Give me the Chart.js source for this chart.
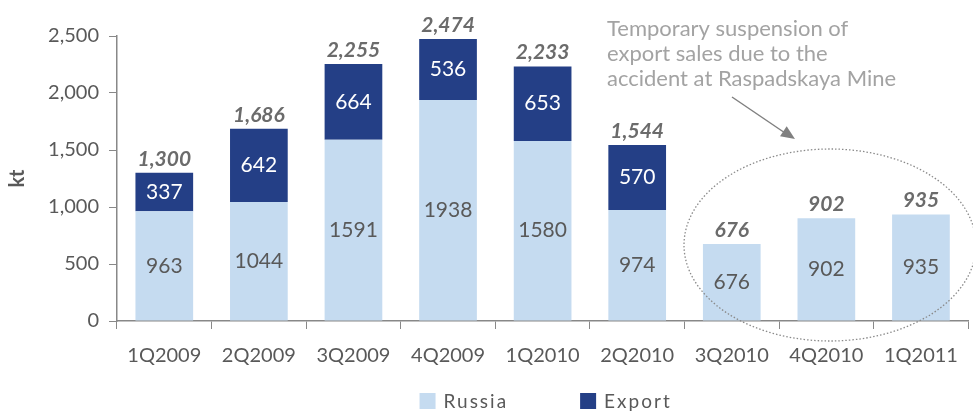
<!DOCTYPE html>
<html>
<head>
<meta charset="utf-8">
<script src="https://cdn.jsdelivr.net/npm/chart.js@4"></script>
<style>
  body { margin: 0; background: #fff; }
  #wrap { width: 973px; height: 411px; position: relative; }
</style>
</head>
<body>
<div id="wrap"><canvas id="myChart"></canvas></div>
<script>
const quarters = ['1Q2009', '2Q2009', '3Q2009', '4Q2009', '1Q2010', '2Q2010', '3Q2010', '4Q2010', '1Q2011']
const russia = [963, 1044, 1591, 1938, 1580, 974, 676, 902, 935]
const exportSales = [337, 642, 664, 536, 653, 570, 0, 0, 0]
const totals = [1300, 1686, 2255, 2474, 2233, 1544, 676, 902, 935]
const noteLines = ['Temporary suspension of', 'export sales due to the', 'accident at Raspadskaya Mine']

const FONT = 'Lato, "Open Sans", sans-serif'
const fmt = (v) => v.toLocaleString('en-US')

// labels in the segments and the totals above each bar
const barLabels = {
  id: 'barLabels',
  afterDatasetsDraw(chart) {
    const ctx = chart.ctx
    ctx.save()
    ctx.textAlign = 'center'
    ctx.textBaseline = 'middle'
    chart.data.datasets.forEach((ds, i) => {
      const meta = chart.getDatasetMeta(i)
      meta.data.forEach((bar, j) => {
        const v = ds.data[j]
        if (!v) return
        ctx.font = '21px ' + FONT
        ctx.fillStyle = i === 0 ? '#595959' : '#ffffff'
        ctx.fillText(String(v), bar.x, (bar.y + bar.base) / 2)
      })
    })
    const top = chart.getDatasetMeta(0).data
    const y = chart.scales.y
    ctx.font = 'italic bold 21px ' + FONT
    ctx.fillStyle = '#6b6b6b'
    totals.forEach((t, j) => {
      ctx.fillText(fmt(t), top[j].x, y.getPixelForValue(t) - 14)
    })
    ctx.restore()
  },
}

// legend drawn by hand so the letter spacing and gap match
const bottomLegend = {
  id: 'bottomLegend',
  afterDraw(chart) {
    const ctx = chart.ctx
    const area = chart.chartArea
    ctx.save()
    ctx.font = '19px ' + FONT
    ctx.letterSpacing = '2px'
    ctx.textBaseline = 'middle'
    const items = chart.data.datasets.map((ds) => ({
      text: ds.label,
      color: ds.backgroundColor,
      w: 16 + 8 + ctx.measureText(ds.label).width,
    }))
    const gap = 72
    const total = items.reduce((s, it) => s + it.w, 0) + gap * (items.length - 1)
    let x = (area.left + area.right) / 2 - total / 2 + 3
    const cy = 401
    items.forEach((it) => {
      ctx.fillStyle = it.color
      ctx.fillRect(x, cy - 8, 16, 16)
      ctx.fillStyle = '#595959'
      ctx.fillText(it.text, x + 24, cy + 1)
      x += it.w + gap
    })
    ctx.restore()
  },
}

// callout text, arrow and dotted ellipse
const callout = {
  id: 'callout',
  afterDraw(chart) {
    const ctx = chart.ctx
    ctx.save()
    ctx.font = '22px ' + FONT
    ctx.fillStyle = '#a3a3a3'
    ctx.textBaseline = 'middle'
    noteLines.forEach((line, i) => ctx.fillText(line, 607, 29 + i * 25))

    ctx.strokeStyle = '#808080'
    ctx.fillStyle = '#808080'
    ctx.lineWidth = 1.5
    ctx.beginPath()
    ctx.moveTo(732, 97)
    ctx.lineTo(788, 135)
    ctx.stroke()
    const ang = Math.atan2(139 - 97, 795 - 732)
    ctx.beginPath()
    ctx.moveTo(795, 139)
    ctx.lineTo(795 - 14 * Math.cos(ang) + 6 * Math.sin(ang), 139 - 14 * Math.sin(ang) - 6 * Math.cos(ang))
    ctx.lineTo(795 - 14 * Math.cos(ang) - 6 * Math.sin(ang), 139 - 14 * Math.sin(ang) + 6 * Math.cos(ang))
    ctx.closePath()
    ctx.fill()

    ctx.strokeStyle = '#8a8a8a'
    ctx.lineWidth = 1.3
    ctx.setLineDash([1.5, 2])
    ctx.beginPath()
    ctx.ellipse(830, 245, 146, 96, 0, 0, Math.PI * 2)
    ctx.stroke()
    ctx.restore()
  },
}

const config = {
  type: 'bar',
  data: {
    labels: quarters,
    datasets: [
      {
        label: 'Russia',
        data: russia,
        backgroundColor: '#c5dbf0',
      },
      {
        label: 'Export',
        data: exportSales,
        backgroundColor: '#243f86',
      },
    ],
  },
  options: {
    responsive: true,
    maintainAspectRatio: false,
    animation: false,
    layout: { padding: { top: 36, right: 1, left: 0, bottom: 40 } },
    datasets: {
      bar: { categoryPercentage: 1, barPercentage: 0.61 },
    },
    scales: {
      x: {
        stacked: true,
        border: { color: '#888', width: 1.5 },
        grid: { drawOnChartArea: false, tickLength: 8, color: '#888', offset: true },
        ticks: { color: '#595959', font: { family: FONT, size: 20 }, padding: 15 },
        afterFit: (s) => { s.height = 50 },
      },
      y: {
        stacked: true,
        min: 0,
        max: 2500,
        border: { color: '#888', width: 1.5 },
        grid: { drawOnChartArea: false, tickLength: 8, color: '#888' },
        ticks: {
          stepSize: 500,
          color: '#595959',
          font: { family: FONT, size: 20 },
          padding: 10,
          callback: (v) => fmt(v),
        },
        title: {
          display: true,
          text: 'kt',
          color: '#595959',
          font: { family: FONT, size: 20, weight: 'bold' },
          padding: { top: 6, bottom: 0 },
        },
        afterFit: (s) => { s.width = 117 },
      },
    },
    plugins: {
      legend: { display: false },
      tooltip: { enabled: false },
    },
  },
  plugins: [barLabels, bottomLegend, callout],
}

var myChart = new Chart(document.getElementById('myChart'), config)
</script>
</body>
</html>
